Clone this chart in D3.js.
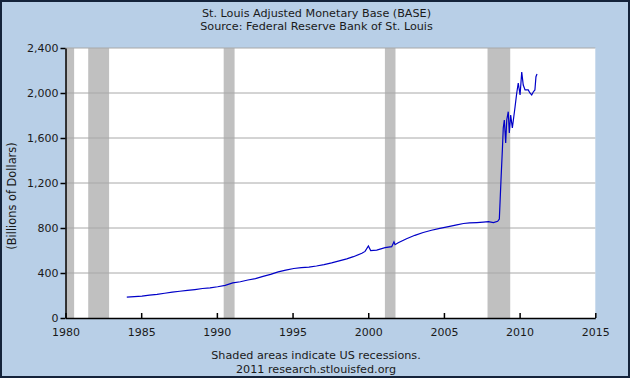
<!DOCTYPE html>
<html lang="en">
<head>
<meta charset="UTF-8"/>
<title>St. Louis Adjusted Monetary Base</title>
<script src="https://d3js.org/d3.v7.min.js"></script>
<style>
	body { margin: 0; background: #fff; }
	text { font-family: "DejaVu Sans", Verdana, sans-serif; fill: #1a1a1a; }
</style>
</head>
<body>
<script>
	var w = 630;
	var h = 378;

	// decimal years and billions of dollars
	var years = [1984.05, 1984.55, 1985.05, 1985.55, 1986.05, 1986.55, 1987.05, 1987.55, 1988.05, 1988.55,
		1989.05, 1989.55, 1990.05, 1990.55, 1991.05, 1991.55, 1992.05, 1992.55, 1993.05, 1993.55,
		1994.05, 1994.55, 1995.08, 1995.58, 1996.08, 1996.58, 1997.08, 1997.58, 1998.08, 1998.58,
		1999.02, 1999.58, 1999.79, 2000.01, 2000.16, 2000.56, 2001.11, 2001.55, 2001.7, 2001.77,
		2001.98, 2002.53, 2003.08, 2003.63, 2004.18, 2004.73, 2005.3, 2005.85, 2006.29, 2006.7,
		2007.17, 2007.6, 2007.94, 2008.27, 2008.55, 2008.66, 2008.77, 2008.86, 2008.92, 2008.99,
		2009.08, 2009.15, 2009.25, 2009.32, 2009.41, 2009.52, 2009.7, 2009.81, 2009.91, 2010.03,
		2010.14, 2010.24, 2010.36, 2010.57, 2010.68, 2010.8, 2010.9, 2011.01, 2011.08, 2011.15];
	var base = [185, 190, 195, 203, 210, 220, 230, 238, 245, 253,
		262, 268, 278, 290, 312, 322, 338, 350, 370, 388,
		410, 425, 440, 447, 452, 462, 475, 490, 508, 525,
		545, 575, 592, 640, 599, 604, 625, 634, 678, 652,
		669, 705, 735, 760, 780, 797, 812, 827, 840, 845,
		848, 852, 856, 848, 860, 880, 1227, 1493, 1689, 1760,
		1556, 1760, 1834, 1644, 1804, 1689, 1878, 2000, 2089, 1982,
		2187, 2071, 2027, 2027, 2000, 1982, 2009, 2027, 2145, 2169];

	var recessions = [[1980.0, 1980.57], [1981.5, 1982.88], [1990.45, 1991.17], [2001.1, 2001.8], [2007.88, 2009.38]];
	var yTicks = [0, 400, 800, 1200, 1600, 2000, 2400];
	var xTicks = [1980, 1985, 1990, 1995, 2000, 2005, 2010, 2015];

	var data = years.map(function(y, i){ return [y, base[i]]; });

	var xScale = d3.scaleLinear().domain([1980, 2015]).range([65.5, 595.3]);
	var yScale = d3.scaleLinear().domain([0, 2400]).range([318, 48]);

	var svg = d3.select("body").append("svg")
		.attr("width", w)
		.attr("height", h);

	svg.append("rect")
		.attr("x", 1).attr("y", 1)
		.attr("width", w - 2).attr("height", h - 2)
		.attr("fill", "#b8cfe7")
		.attr("stroke", "#14233a")
		.attr("stroke-width", 2);

	// plot background
	svg.append("rect")
		.attr("x", xScale(1980)).attr("y", yScale(2400))
		.attr("width", xScale(2015) - xScale(1980))
		.attr("height", yScale(0) - yScale(2400))
		.attr("fill", "#ffffff");

	svg.selectAll(".rec")
		.data(recessions)
		.enter()
		.append("rect")
		.attr("class", "rec")
		.attr("x", function(d){ return xScale(d[0]); })
		.attr("y", yScale(2400))
		.attr("width", function(d){ return xScale(d[1]) - xScale(d[0]); })
		.attr("height", yScale(0) - yScale(2400))
		.attr("fill", "#c0c0c0");

	// grid lines
	svg.selectAll(".grid")
		.data(yTicks.slice(1))
		.enter()
		.append("line")
		.attr("class", "grid")
		.attr("x1", xScale(1980)).attr("x2", xScale(2015))
		.attr("y1", function(d){ return yScale(d); })
		.attr("y2", function(d){ return yScale(d); })
		.attr("stroke", "#a8a8a8")
		.attr("stroke-width", 1);

	var line = d3.line()
		.x(function(d){ return xScale(d[0]); })
		.y(function(d){ return yScale(d[1]); });

	svg.append("path")
		.datum(data)
		.attr("d", line)
		.attr("fill", "none")
		.attr("stroke", "#0000c8")
		.attr("stroke-width", 1.2);

	var xAxis = d3.axisBottom(xScale)
		.tickValues(xTicks)
		.tickFormat(d3.format("d"))
		.tickSizeInner(-5)
		.tickSizeOuter(0)
		.tickPadding(10);

	var yAxis = d3.axisLeft(yScale)
		.tickValues(yTicks)
		.tickFormat(d3.format(","))
		.tickSizeInner(5)
		.tickSizeOuter(0)
		.tickPadding(2);

	var gx = svg.append("g")
		.attr("transform", "translate(0," + yScale(0) + ")")
		.call(xAxis);

	var gy = svg.append("g")
		.attr("transform", "translate(" + xScale(1980) + ",0)")
		.call(yAxis);

	[gx, gy].forEach(function(g){
		g.selectAll("path, line").attr("stroke", "#000").attr("stroke-width", 1.5);
		g.selectAll("text").attr("font-size", 11).attr("fill", "#1a1a1a")
			.attr("font-family", "'DejaVu Sans', Verdana, sans-serif");
	});

	svg.append("text")
		.attr("text-anchor", "middle")
		.attr("transform", "rotate(-90)")
		.attr("x", -196)
		.attr("y", 16)
		.attr("font-size", 11.4)
		.text("(Billions of Dollars)");

	svg.append("text")
		.attr("text-anchor", "middle")
		.attr("x", 316.5).attr("y", 17)
		.attr("font-size", 11.2)
		.text("St. Louis Adjusted Monetary Base (BASE)");

	svg.append("text")
		.attr("text-anchor", "middle")
		.attr("x", 316.5).attr("y", 30)
		.attr("font-size", 11.2)
		.text("Source: Federal Reserve Bank of St. Louis");

	svg.append("text")
		.attr("text-anchor", "middle")
		.attr("x", 316).attr("y", 359)
		.attr("font-size", 11.2)
		.text("Shaded areas indicate US recessions.");

	svg.append("text")
		.attr("text-anchor", "middle")
		.attr("x", 316).attr("y", 373)
		.attr("font-size", 11.2)
		.text("2011 research.stlouisfed.org");
</script>
</body>
</html>
